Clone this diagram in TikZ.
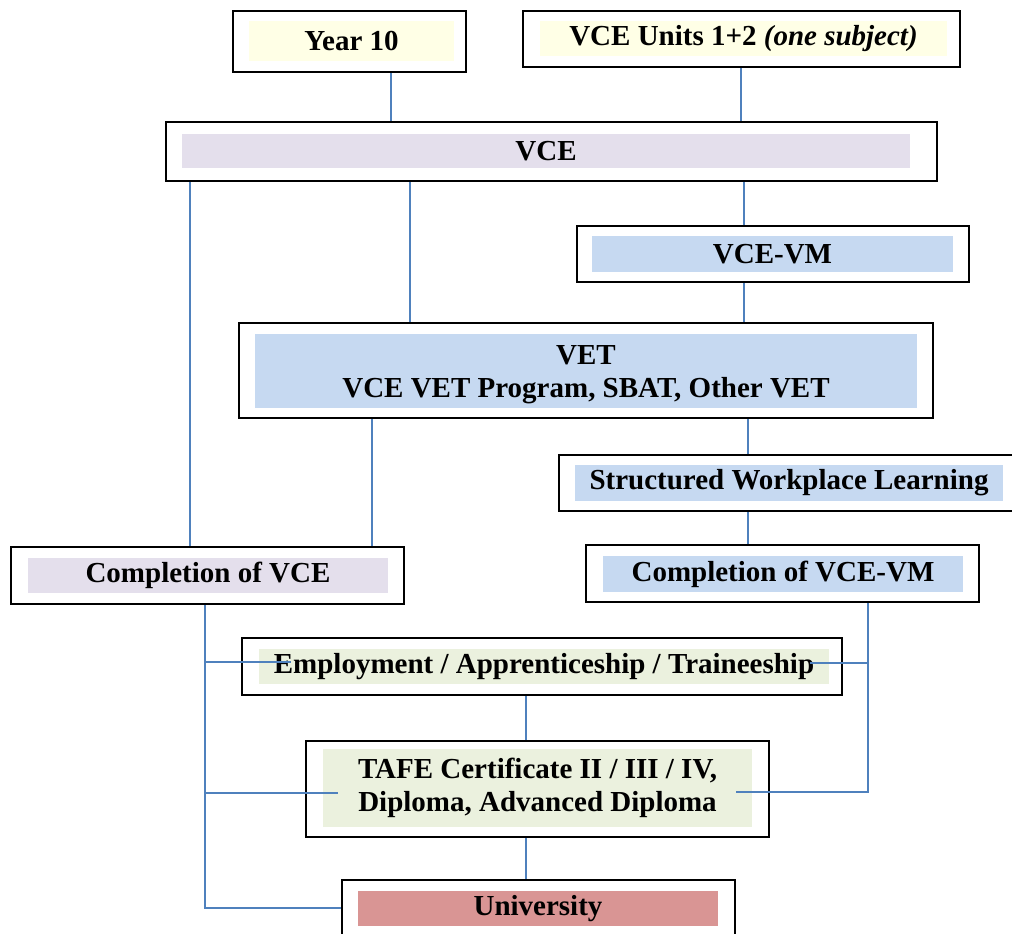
\documentclass[tikz,border=0pt]{standalone}
\usepackage{fontspec}
\setmainfont{Liberation Serif}
\usetikzlibrary{fit}

\definecolor{paleyellow}{HTML}{FFFFE6}
\definecolor{lavender}{HTML}{E4DFEC}
\definecolor{paleblue}{HTML}{C6D9F1}
\definecolor{palegreen}{HTML}{EBF1DE}
\definecolor{rose}{HTML}{D99594}
\definecolor{linkblue}{HTML}{4F81BD}

\tikzset{
  frame/.style={draw=black, line width=2.2pt, inner sep=0pt},
  panel/.style={fill=#1, inner sep=0pt},
  caption/.style={inner sep=0pt, align=center, font=\fontsize{21.75}{24.75}\selectfont\bfseries},
  link/.style={draw=linkblue, line width=1.1pt},
}

\begin{document}
\begin{tikzpicture}[x=0.75pt,y=0.75pt,yscale=-1,xscale=1]
\useasboundingbox (0,0) rectangle (1012,933);

%Shape: Year 10
\node[frame, fit={(233,11) (466,72)}] (yearten) {};
\node[panel=paleyellow, fit={(249,21) (454,61)}] (yeartenfill) {};
\node[caption] (yeartentext) at (yeartenfill) {Year 10};
%Shape: VCE Units 1+2
\node[frame, fit={(523,11) (960,67)}] (units) {};
\node[panel=paleyellow, fit={(540,21) (947,56)}] (unitsfill) {};
\node[caption] (unitstext) at (unitsfill) {VCE Units 1+2 \textit{(one subject)}};
%Shape: VCE
\node[frame, fit={(166,122) (937,181)}] (vce) {};
\node[panel=lavender, fit={(182,134) (910,168)}] (vcefill) {};
\node[caption] (vcetext) at (vcefill) {VCE};
%Shape: VCE-VM
\node[frame, fit={(577,226) (969,282)}] (vcevm) {};
\node[panel=paleblue, fit={(592,236) (953,272)}] (vcevmfill) {};
\node[caption] (vcevmtext) at (vcevmfill) {VCE-VM};
%Shape: VET
\node[frame, fit={(239,323) (933,418)}] (vet) {};
\node[panel=paleblue, fit={(255,334) (917,408)}] (vetfill) {};
\node[caption] (vettext) at ([yshift=3pt]vetfill) {VET\\VCE VET Program, SBAT, Other VET};
%Shape: Structured Workplace Learning
\node[frame, fit={(559,455) (1024,511)}] (swl) {};
\node[panel=paleblue, fit={(575,465) (1003,501)}] (swlfill) {};
\node[caption] (swltext) at (swlfill) {Structured Workplace Learning};
%Shape: Completion of VCE
\node[frame, fit={(11,547) (404,604)}] (compvce) {};
\node[panel=lavender, fit={(28,558) (388,593)}] (compvcefill) {};
\node[caption] (compvcetext) at (compvcefill) {Completion of VCE};
%Shape: Completion of VCE-VM
\node[frame, fit={(586,545) (979,602)}] (compvm) {};
\node[panel=paleblue, fit={(603,556) (963,592)}] (compvmfill) {};
\node[caption] (compvmtext) at (compvmfill) {Completion of VCE-VM};
%Shape: Employment
\node[frame, fit={(242,638) (842,695)}] (emp) {};
\node[panel=palegreen, fit={(259,649) (829,684)}] (empfill) {};
\node[caption] (emptext) at (empfill) {Employment / Apprenticeship / Traineeship};
%Shape: TAFE
\node[frame, fit={(306,741) (769,837)}] (tafe) {};
\node[panel=palegreen, fit={(323,749) (752,827)}] (tafefill) {};
\node[caption] (tafetext) at (tafefill) {TAFE Certificate II / III / IV,\\Diploma, Advanced Diploma};
%Shape: University
\node[frame, fit={(342,880) (735,936)}] (university) {};
\node[panel=rose, fit={(358,891) (718,926)}] (universityfill) {};
\node[caption] (universitytext) at (universityfill) {University};

% columns of the links
\coordinate (c190) at (190,0);
\coordinate (c205) at (205,0);
\coordinate (c372) at (372,0);
\coordinate (c391) at (391,0);
\coordinate (c410) at (410,0);
\coordinate (c526) at (526,0);
\coordinate (c741) at (741,0);
\coordinate (c744) at (744,0);
\coordinate (c748) at (748,0);
\coordinate (c868) at (868,0);
% ends of the branches
\coordinate (empjoinL) at (291,662);
\coordinate (empjoinR) at (810,663);
\coordinate (tafejoinL) at (338,793);
\coordinate (tafejoinR) at (736,792);

%Straight Lines
\draw[link] (yearten.south -| c391) -- (vce.north -| c391);
\draw[link] (units.south -| c741) -- (vce.north -| c741);
\draw[link] (vce.south -| c744) -- (vcevm.north -| c744);
\draw[link] (vce.south -| c410) -- (vet.north -| c410);
\draw[link] (vce.south -| c190) -- (compvce.north -| c190);
\draw[link] (vcevm.south -| c744) -- (vet.north -| c744);
\draw[link] (vet.south -| c372) -- (compvce.north -| c372);
\draw[link] (vet.south -| c748) -- (swl.north -| c748);
\draw[link] (swl.south -| c748) -- (compvm.north -| c748);
\draw[link] (emp.south -| c526) -- (tafe.north -| c526);
\draw[link] (tafe.south -| c526) -- (university.north -| c526);
%Straight Lines: left trunk
\draw[link] (compvce.south -| c205) |- (university.west);
\draw[link] (empjoinL -| c205) -- (empjoinL);
\draw[link] (tafejoinL -| c205) -- (tafejoinL);
%Straight Lines: right trunk
\draw[link] (compvm.south -| c868) |- (tafejoinR);
\draw[link] (empjoinR) -- (empjoinR -| c868);
\end{tikzpicture}
\end{document}
